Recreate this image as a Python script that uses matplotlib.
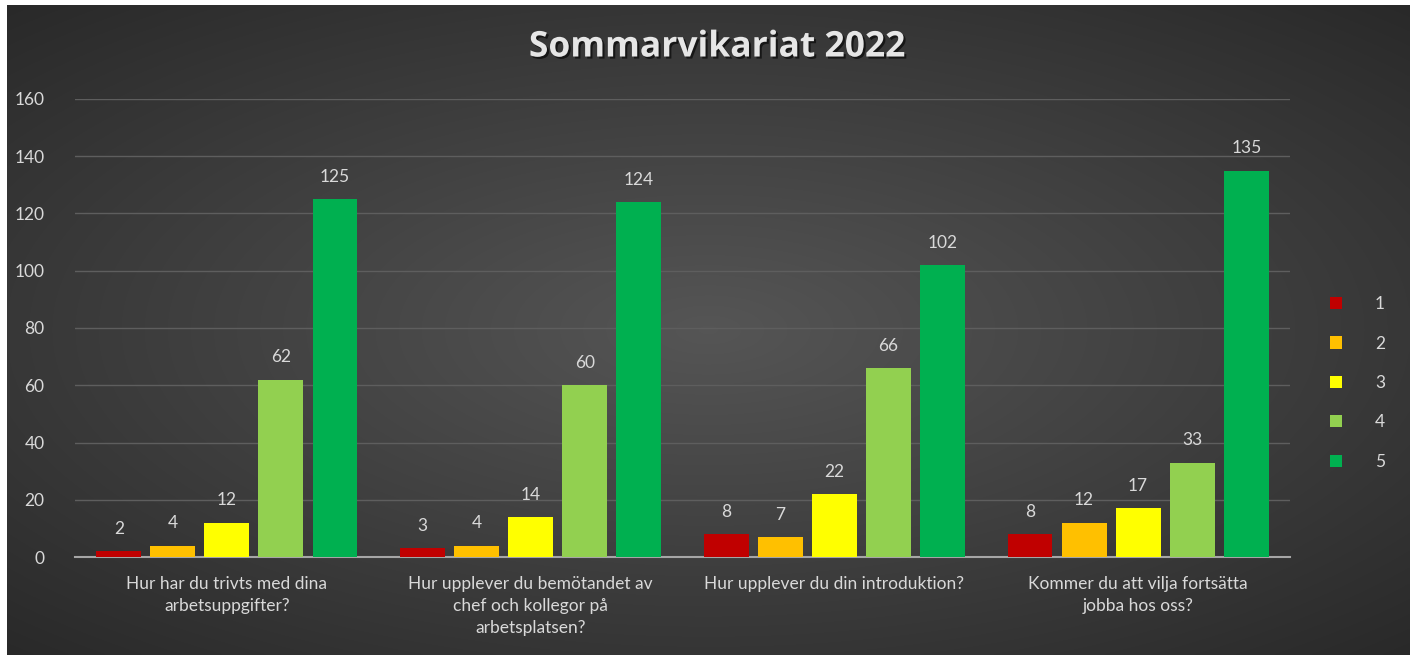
import matplotlib.pyplot as plt
import matplotlib.patheffects as pe
import numpy as np

plt.rcParams['font.family'] = ['Lato', 'DejaVu Sans']

questions = [
    "Hur har du trivts med dina\narbetsuppgifter?",
    "Hur upplever du bemötandet av\nchef och kollegor på\narbetsplatsen?",
    "Hur upplever du din introduktion?",
    "Kommer du att vilja fortsätta\njobba hos oss?",
]
series_names = ["1", "2", "3", "4", "5"]
values_1 = [2, 3, 8, 8]
values_2 = [4, 4, 7, 12]
values_3 = [12, 14, 22, 17]
values_4 = [62, 60, 66, 33]
values_5 = [125, 124, 102, 135]
colors = ["#C00000", "#FFC000", "#FFFF00", "#92D050", "#00B050"]

text_col = "#D9D9D9"

fig = plt.figure(figsize=(14.16, 6.6), dpi=100, facecolor="white")

# dark radial gradient backdrop
bg = fig.add_axes([7 / 1416, 5 / 660, 1403 / 1416, 650 / 660])
yy, xx = np.mgrid[-1:1:300j, -1:1:600j]
r = np.sqrt((xx * 0.85) ** 2 + (yy * 0.9) ** 2)
shade = np.clip(0.335 - 0.14 * r, 0, 1)
bg.imshow(np.dstack([shade] * 3), aspect="auto", extent=[0, 1, 0, 1],
          interpolation="bilinear")
bg.axis("off")

ax = fig.add_axes([75 / 1416, 103 / 660, 1215 / 1416, 458 / 660])
ax.patch.set_alpha(0)

x = np.arange(len(questions))
step = 0.178
width = 0.148
all_values = [values_1, values_2, values_3, values_4, values_5]
for i, (vals, name, c) in enumerate(zip(all_values, series_names, colors)):
    pos = x + (i - 2) * step
    bars = ax.bar(pos, vals, width, color=c, label=name, zorder=3)
    for b, v in zip(bars, vals):
        ax.text(b.get_x() + b.get_width() / 2, v + 5, str(v), ha="center",
                va="bottom", color=text_col, fontsize=12.5)

ax.set_xlim(-0.5, 3.5)
ax.set_ylim(0, 160)
ax.set_yticks(range(0, 161, 20))
ax.grid(axis="y", color="#5E5E5E", linewidth=1, zorder=0)
for s in ["top", "right", "left"]:
    ax.spines[s].set_visible(False)
ax.spines["bottom"].set_color("#A6A6A6")
ax.spines["bottom"].set_linewidth(1.5)
ax.tick_params(axis="both", length=0, colors=text_col, labelsize=12.5)
ax.tick_params(axis="y", pad=22)
ax.tick_params(axis="x", pad=14)
ax.set_xticks(x)
ax.set_xticklabels(questions, linespacing=1.45)

leg = ax.legend(loc="center left", bbox_to_anchor=(1.02, 0.38), frameon=False,
                labelcolor=text_col, fontsize=12.5, handlelength=0.7,
                handleheight=0.7, handletextpad=1.9, labelspacing=1.35)

fig.text(0.506, 0.928, "Sommarvikariat 2022", ha="center", va="center",
         fontsize=25.5, fontweight="bold", color="#E6E6E6",
         family=["Open Sans", "DejaVu Sans"],
         path_effects=[pe.withSimplePatchShadow(offset=(1.5, -1.5),
                                                shadow_rgbFace="black",
                                                alpha=0.6)])

fig.savefig("out.png", dpi=100, facecolor="white")
